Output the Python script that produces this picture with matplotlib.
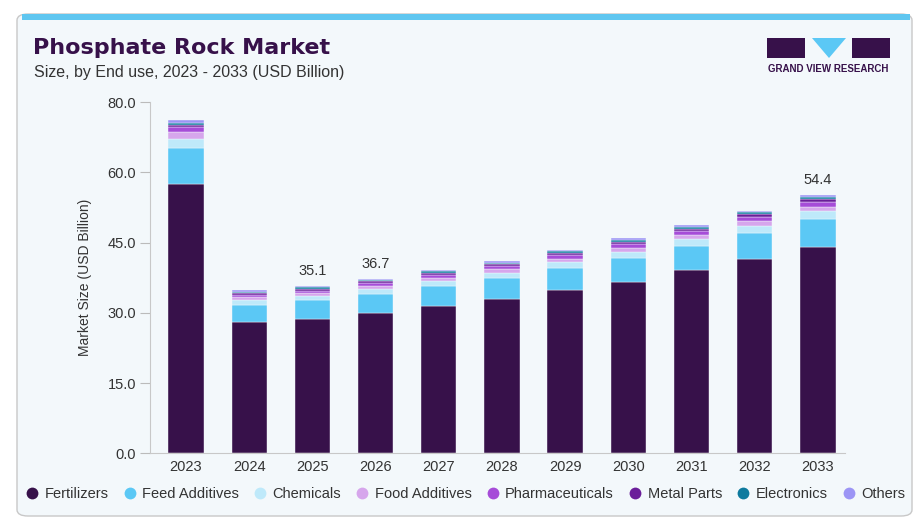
import numpy as np
import matplotlib
matplotlib.use('Agg')
import matplotlib.pyplot as plt
from matplotlib.patches import FancyBboxPatch, Rectangle, Polygon

plt.rcParams['font.family'] = ['Liberation Sans', 'DejaVu Sans']

# data (USD Billion)
years = ['2023', '2024', '2025', '2026', '2027', '2028', '2029', '2030', '2031', '2032', '2033']
fertilizers = [56.6, 27.6, 28.3, 29.5, 31.0, 32.4, 34.3, 36.0, 38.5, 40.8, 43.3]
feed_additives = [7.6, 3.6, 3.8, 4.0, 4.1, 4.4, 4.6, 5.0, 5.1, 5.4, 5.9]
chemicals = [1.9, 1.0, 0.95, 1.0, 1.1, 1.15, 1.25, 1.35, 1.45, 1.6, 1.7]
food_additives = [1.3, 0.55, 0.55, 0.6, 0.65, 0.7, 0.75, 0.75, 0.8, 0.9, 0.9]
pharmaceuticals = [1.05, 0.6, 0.6, 0.65, 0.7, 0.75, 0.8, 0.85, 0.9, 1.0, 1.05]
metal_parts = [0.45, 0.3, 0.35, 0.35, 0.35, 0.35, 0.4, 0.4, 0.45, 0.5, 0.5]
electronics = [0.5, 0.3, 0.3, 0.3, 0.3, 0.3, 0.35, 0.4, 0.4, 0.45, 0.45]
others = [0.55, 0.3, 0.3, 0.3, 0.3, 0.3, 0.35, 0.4, 0.4, 0.35, 0.5]

series = [
    ('Fertilizers', fertilizers, '#37114A'),
    ('Feed Additives', feed_additives, '#5BC8F5'),
    ('Chemicals', chemicals, '#BEE9FA'),
    ('Food Additives', food_additives, '#D6A6EC'),
    ('Pharmaceuticals', pharmaceuticals, '#A64CD8'),
    ('Metal Parts', metal_parts, '#6B1E9A'),
    ('Electronics', electronics, '#0E7A9E'),
    ('Others', others, '#9C95F5'),
]

labeled = {'2025': '35.1', '2026': '36.7', '2033': '54.4'}

yticks_lbl = ['0.0', '15.0', '30.0', '45.0', '60.0', '80.0']

W, H = 923, 521
fig = plt.figure(figsize=(W / 100, H / 100), dpi=100)
fig.patch.set_facecolor('white')

def fx(px):
    return px / W

def fy(py):
    return 1 - py / H

# card background
card = FancyBboxPatch((fx(17), fy(516)), fx(895), fy(14) - fy(516),
                      boxstyle='round,pad=0,rounding_size=0.012',
                      transform=fig.transFigure, facecolor='#F3F8FB',
                      edgecolor='#C8C8C8', linewidth=1.0, zorder=-2)
fig.patches.append(card)
fig.patches.append(Rectangle((fx(22), fy(20)), fx(888), fy(14) - fy(20),
                             transform=fig.transFigure, facecolor='#5FC6F0',
                             edgecolor='none', zorder=-1))

fig.text(fx(33), fy(48), 'Phosphate Rock Market', fontsize=16, fontweight='heavy',
         color='#37114A', family='DejaVu Sans', va='center')
fig.text(fx(34), fy(73), 'Size, by End use, 2023 - 2033 (USD Billion)', fontsize=11.5,
         color='#333333', va='center')

# logo
fig.patches.append(Rectangle((fx(767), fy(58)), fx(38), fy(38) - fy(58),
                             transform=fig.transFigure, facecolor='#37114A', edgecolor='none'))
fig.patches.append(Polygon([(fx(812), fy(38)), (fx(846), fy(38)), (fx(829), fy(58))],
                           closed=True, transform=fig.transFigure,
                           facecolor='#5BC8F5', edgecolor='none'))
fig.patches.append(Rectangle((fx(852), fy(58)), fx(38), fy(38) - fy(58),
                             transform=fig.transFigure, facecolor='#37114A', edgecolor='none'))
fig.text(fx(828.5), fy(69), 'GRAND VIEW RESEARCH', fontsize=7, fontweight='bold',
         color='#37114A', ha='center', va='center')

# chart
ax = fig.add_axes([fx(150), fy(453.3), fx(695), fy(102) - fy(453.3)])
ax.set_zorder(2)
ax.set_facecolor('none')
x = np.arange(len(years))
bottom = np.zeros(len(years))
for name, vals, col in series:
    ax.bar(x, vals, 0.56, bottom=bottom, color=col, label=name,
           edgecolor='#F3F8FB', linewidth=0.3, zorder=2)
    bottom += np.array(vals)

for i, yr in enumerate(years):
    if yr in labeled:
        ax.text(x[i], bottom[i] + 1.6, labeled[yr], ha='center', va='bottom',
                fontsize=10.5, color='#333333')

ytop = 73.8
ax.set_ylim(0, ytop)
ax.set_xlim(-0.57, 10.43)
ax.set_yticks(np.linspace(0, ytop, 6))
ax.set_yticklabels(yticks_lbl)
ax.set_xticks(x)
ax.set_xticklabels(years)
ax.tick_params(axis='y', length=7, color='#BBBBBB', labelsize=10.5, labelcolor='#333333', pad=3)
ax.tick_params(axis='x', length=0, labelsize=10.5, labelcolor='#333333', pad=5)
for s in ['top', 'right']:
    ax.spines[s].set_visible(False)
ax.spines['left'].set_color('#C8C8C8')
ax.spines['bottom'].set_color('#C8C8C8')
ax.set_ylabel('Market Size (USD Billion)', fontsize=10, color='#333333', labelpad=11)

handles = [plt.Line2D([], [], marker='o', linestyle='none', markersize=8.5,
                      markerfacecolor=c, markeredgecolor='none') for _, _, c in series]
leg = fig.legend(handles, [n for n, _, _ in series], loc='center', ncol=8,
                 bbox_to_anchor=(fx(465), fy(494)), frameon=False, fontsize=10.5,
                 handletextpad=0.35, columnspacing=0.95, labelcolor='#333333',
                 handlelength=1.0)
leg.set_zorder(3)

fig.savefig('out.png', dpi=100, facecolor=fig.get_facecolor())
